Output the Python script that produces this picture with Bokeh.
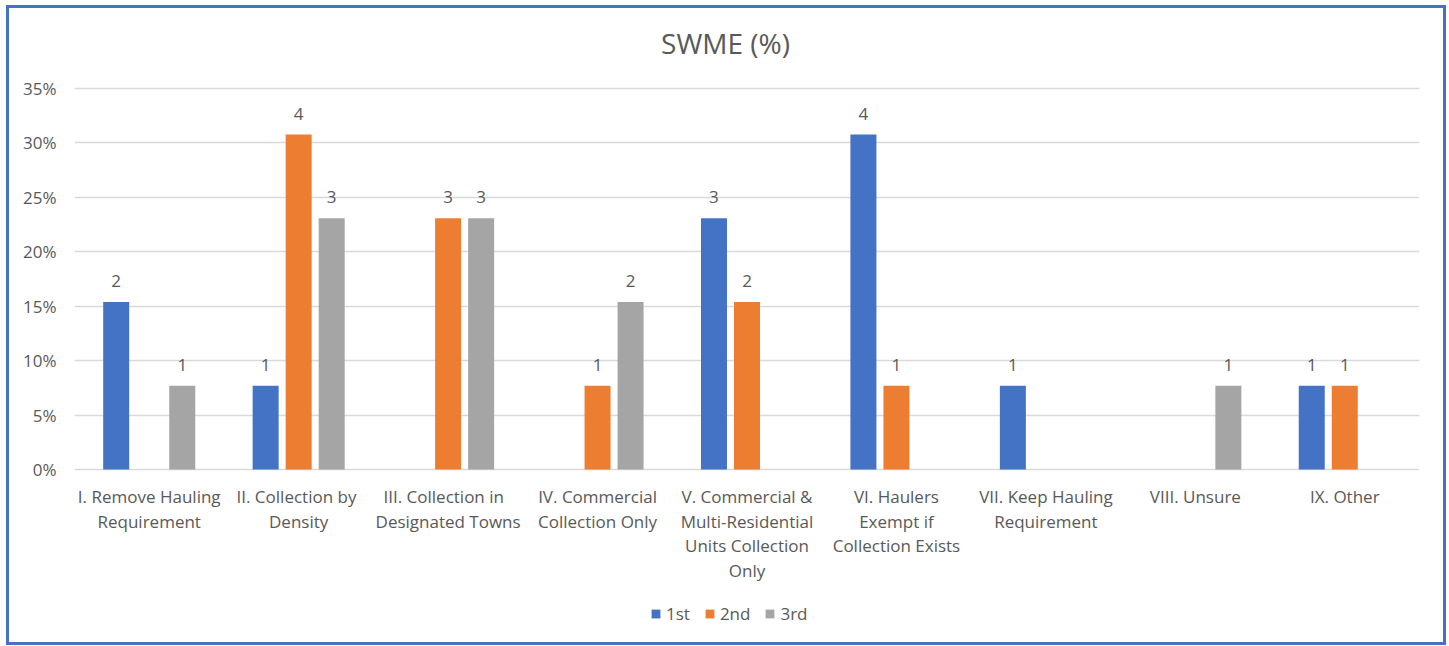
from bokeh.plotting import figure
from bokeh.models import (ColumnDataSource, FactorRange, NumeralTickFormatter, Legend, LegendItem,
                          LabelSet, Label, FixedTicker)
from bokeh.core.properties import value
from bokeh.transform import dodge
from bokeh.embed import file_html
from bokeh.resources import INLINE

title_text = "SWME (%)"
categories = [
    "I. Remove Hauling\nRequirement",
    "II.  Collection by\nDensity",
    "III.  Collection  in\nDesignated Towns",
    "IV. Commercial\nCollection Only",
    "V. Commercial &\nMulti-Residential\nUnits Collection\nOnly",
    "VI. Haulers\nExempt if\nCollection Exists",
    "VII. Keep Hauling\nRequirement",
    "VIII. Unsure",
    "IX. Other",
]
series_names = ["1st", "2nd", "3rd"]
counts_1st = [2, 1, 0, 0, 3, 4, 1, 0, 1]
counts_2nd = [0, 4, 3, 1, 2, 1, 0, 0, 1]
counts_3rd = [1, 3, 3, 2, 0, 0, 0, 1, 0]
respondents = 13
y_ticks = [0, 0.05, 0.10, 0.15, 0.20, 0.25, 0.30, 0.35]

colors = ["#4472C4", "#ED7D31", "#A5A5A5"]
offsets = [-0.221, 0.0, 0.221]

FONT = "Open Sans"
TXT = "#595959"

p = figure(
    width=1440, height=640,
    x_range=FactorRange(*categories, range_padding=0),
    y_range=(-0.15525, 0.4235),
    x_axis_location=None,
    output_backend="svg", toolbar_location=None,
    min_border_left=65, min_border_right=30, min_border_top=0, min_border_bottom=10,
)
p.styles = {"border": "3px solid #4472C4", "margin-left": "6px", "margin-top": "5px"}

p.outline_line_color = None
p.xgrid.grid_line_color = None
p.ygrid.grid_line_color = "#D9D9D9"
p.ygrid.grid_line_width = 1.5

p.yaxis.ticker = FixedTicker(ticks=y_ticks)
p.yaxis.formatter = NumeralTickFormatter(format="0%")
p.yaxis.axis_line_color = None
p.yaxis.major_tick_line_color = None
p.yaxis.minor_tick_line_color = None
p.yaxis.major_label_text_font = FONT
p.yaxis.major_label_text_font_size = "17px"
p.yaxis.major_label_text_color = TXT
p.yaxis.major_label_standoff = 12

# chart title
p.add_layout(Label(x=4.356, y=0.3914, text=title_text, text_align="center", text_baseline="middle",
                   text_font=FONT, text_font_size="28px", text_color=TXT))

# category labels under the zero line, one LabelSet per text line so each line is centred
split = [c.split("\n") for c in categories]
n_lines = max(len(s) for s in split)
for k in range(n_lines):
    line_src = ColumnDataSource(dict(cat=categories, y=[0] * len(categories),
                                     txt=[s[k] if len(s) > k else "" for s in split]))
    p.add_layout(LabelSet(x="cat", y="y", text="txt", source=line_src,
                          y_offset=-(27 + 24.5 * k),
                          text_align="center", text_baseline="middle",
                          text_font=value(FONT), text_font_size=value("17px"), text_color=TXT))

items = []
for name, cnts, col, off in zip(series_names, [counts_1st, counts_2nd, counts_3rd], colors, offsets):
    cats = [c for c, n in zip(categories, cnts) if n > 0]
    vals = [n / respondents for n in cnts if n > 0]
    labs = [str(n) for n in cnts if n > 0]
    src = ColumnDataSource(dict(cat=cats, val=vals, lab=labs))
    r = p.vbar(x=dodge("cat", off, range=p.x_range), top="val", width=0.174, source=src,
               fill_color=col, line_color=None)
    p.add_layout(LabelSet(x=dodge("cat", off, range=p.x_range), y="val", text="lab", source=src,
                          text_align="center", text_baseline="middle", y_offset=21,
                          text_font=value(FONT), text_font_size=value("17px"), text_color=TXT))
    items.append(LegendItem(label=name, renderers=[r]))

legend = Legend(items=items, orientation="horizontal", location=(576, 13),
                label_text_font=FONT, label_text_font_size="17px", label_text_color=TXT,
                glyph_width=11, glyph_height=11, label_height=22, spacing=14, label_standoff=5,
                border_line_color=None, background_fill_alpha=0, margin=0, padding=0)
p.add_layout(legend, "center")

open("out.html", "w").write(file_html(p, INLINE))
